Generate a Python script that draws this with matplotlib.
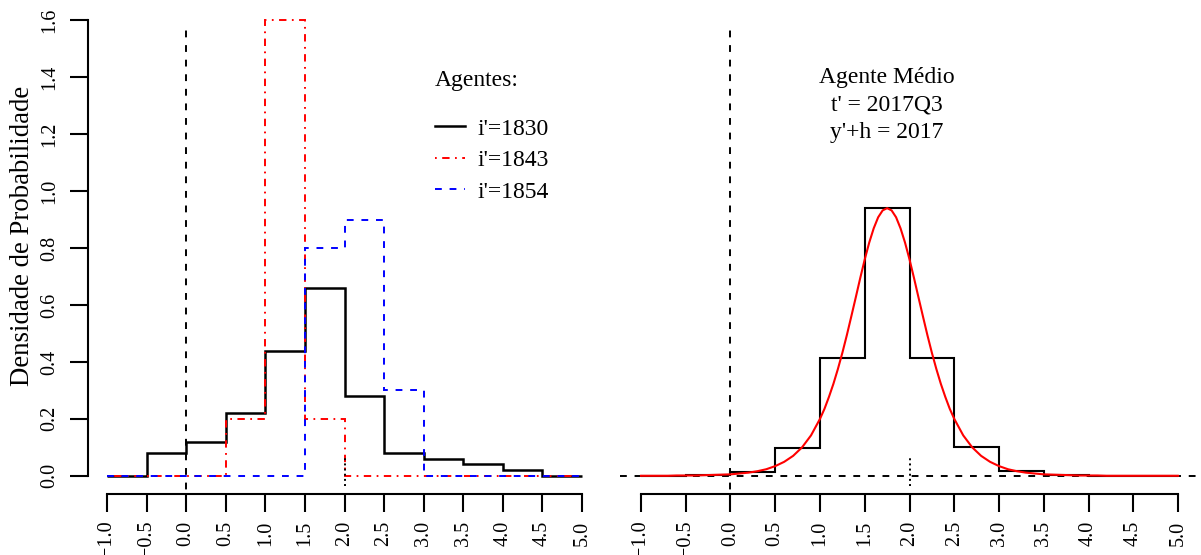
import matplotlib
matplotlib.use("Agg")
import matplotlib.pyplot as plt
from matplotlib.lines import Line2D

plt.rcParams['font.family'] = ['Liberation Serif', 'DejaVu Serif']

# classes do histograma (largura 0.5)
bordas = [-1.0, -0.5, 0.0, 0.5, 1.0, 1.5, 2.0, 2.5, 3.0, 3.5, 4.0, 4.5, 5.0]

# densidades por agente
dens_1830 = [0.0, 0.08, 0.12, 0.22, 0.44, 0.66, 0.28, 0.08, 0.06, 0.04, 0.02, 0.0]
dens_1843 = [0.0, 0.0, 0.0, 0.2, 1.6, 0.2, 0.0, 0.0, 0.0, 0.0, 0.0, 0.0]
dens_1854 = [0.0, 0.0, 0.0, 0.0, 0.0, 0.8, 0.9, 0.3, 0.0, 0.0, 0.0, 0.0]
agentes = ["i'=1830", "i'=1843", "i'=1854"]

# agente medio
dens_medio = [0.0, 0.003, 0.015, 0.097, 0.412, 0.940, 0.413, 0.102, 0.016, 0.003, 0.0, 0.0]
curva_x = [-1.0, -0.9, -0.8, -0.7, -0.6, -0.5, -0.4, -0.3, -0.2, -0.1,
           0.0, 0.1, 0.2, 0.3, 0.4, 0.5, 0.6, 0.7, 0.8, 0.9,
           1.0, 1.05, 1.1, 1.15, 1.2, 1.25, 1.3, 1.35, 1.4, 1.45,
           1.5, 1.55, 1.6, 1.65, 1.7, 1.75, 1.8, 1.85, 1.9, 1.95,
           2.0, 2.05, 2.1, 2.15, 2.2, 2.25, 2.3, 2.35, 2.4, 2.45,
           2.5, 2.6, 2.7, 2.8, 2.9, 3.0, 3.1, 3.2, 3.3, 3.4,
           3.5, 3.6, 3.7, 3.8, 3.9, 4.0, 4.1, 4.2, 4.4, 4.6, 4.8, 5.0]
curva_y = [0.000, 0.000, 0.000, 0.000, 0.001, 0.001, 0.001, 0.002, 0.003, 0.004,
           0.005, 0.008, 0.011, 0.016, 0.023, 0.034, 0.049, 0.070, 0.100, 0.142,
           0.200, 0.235, 0.277, 0.323, 0.375, 0.432, 0.494, 0.560, 0.627, 0.695,
           0.760, 0.819, 0.869, 0.908, 0.932, 0.940, 0.932, 0.908, 0.869, 0.819,
           0.760, 0.695, 0.627, 0.560, 0.494, 0.432, 0.375, 0.323, 0.277, 0.235,
           0.200, 0.142, 0.100, 0.070, 0.049, 0.034, 0.023, 0.016, 0.011, 0.008,
           0.005, 0.004, 0.003, 0.002, 0.001, 0.001, 0.001, 0.000, 0.000, 0.000, 0.000, 0.000]
texto_medio = ["Agente Médio", "t' = 2017Q3", "y'+h = 2017"]

xticks = bordas
yticks = [0.0, 0.2, 0.4, 0.6, 0.8, 1.0, 1.2, 1.4, 1.6]
valor_ref = 2.0

def fmt(v):
    return f"{v:.1f}".replace("-", "\u2212")

tracejado = (0, (3.5, 4.0))
ponto_traco = (0, (0.9, 2.8, 3.8, 2.8))

fig = plt.figure(figsize=(12.01, 5.55), dpi=100)
ax1 = fig.add_axes([88/1201, 61/555, 513/1201, 492/555])
ax2 = fig.add_axes([619.5/1201, 61/555, 580/1201, 492/555])

for ax in (ax1, ax2):
    ax.set_xlim(-1.24, 5.24)
    ax.set_ylim(-0.064, 1.664)
    ax.spines['top'].set_visible(False)
    ax.spines['right'].set_visible(False)
    ax.spines['bottom'].set_bounds(-1, 5)
    ax.spines['bottom'].set_linewidth(1.5)
    ax.spines['left'].set_linewidth(1.5)
    ax.set_xticks(xticks)
    ax.set_xticklabels([fmt(v) for v in xticks], rotation=90, fontsize=14.5)
    ax.tick_params(axis='x', direction='out', length=13, width=1.5, pad=6)
    ax.vlines(0, -0.1, 1.59, colors='black', linestyles=[tracejado], lw=1.4)
    ax.vlines(valor_ref, -0.037, 0.062, colors='black', linestyles=':', lw=1.4)

# painel esquerdo
ax1.spines['left'].set_bounds(0, 1.6)
ax1.set_yticks(yticks)
ax1.set_yticklabels([fmt(v) for v in yticks], rotation=90, va='center', fontsize=14.5)
ax1.tick_params(axis='y', direction='out', length=13, width=1.5, pad=8)
ax1.stairs(dens_1830, bordas, color='black', lw=1.8)
ax1.stairs(dens_1843, bordas, color='red', lw=1.4, linestyle=ponto_traco)
ax1.stairs(dens_1854, bordas, color='blue', lw=1.4, linestyle=tracejado)
ax1.set_ylabel("Densidade de Probabilidade", fontsize=19.3)
ax1.yaxis.set_label_coords(-0.104, 0.524)

ax1.text(0.676, 0.829, "Agentes:", transform=ax1.transAxes, fontsize=17,
         ha='left', va='baseline')
alcas = [Line2D([], [], color='black', lw=1.8),
         Line2D([], [], color='red', lw=1.4, linestyle=ponto_traco),
         Line2D([], [], color='blue', lw=1.4, linestyle=tracejado)]
ax1.legend(alcas, agentes, loc='upper left', bbox_to_anchor=(0.676, 0.764),
           frameon=False, fontsize=17, handlelength=1.3, handletextpad=0.5,
           labelspacing=0.42, borderaxespad=0, borderpad=0)

# painel direito
ax2.spines['left'].set_visible(False)
ax2.set_yticks([])
ax2.axhline(0, color='black', linestyle=tracejado, lw=1.4)
ax2.stairs(dens_medio, bordas, color='black', lw=1.5)
ax2.plot(curva_x, curva_y, color='red', lw=1.5)
for i, linha in enumerate(texto_medio):
    ax2.text(1.75, 1.38 - 0.097*i, linha, fontsize=17, ha='center', va='baseline')

fig.savefig("out.png", dpi=100)
